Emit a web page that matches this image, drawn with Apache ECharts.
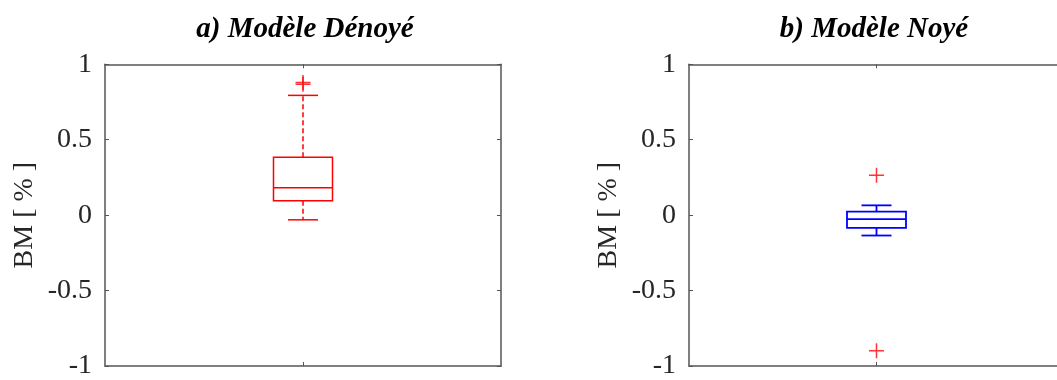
<!DOCTYPE html>
<html>
<head>
<meta charset="utf-8">
<script src="https://cdn.jsdelivr.net/npm/echarts@6/dist/echarts.min.js"></script>
<style>
html,body{margin:0;padding:0;background:#fff;overflow:hidden;}
#c{width:1080px;height:380px;}
</style>
</head>
<body>
<div id="c"></div>
<script>
// ---- data ----
const panelTitles = ['a) Modèle Dénoyé', 'b) Modèle Noyé'];
const yAxisTitle = 'BM [ % ]';
const categories = ['Dénoyé'];
const categoriesNoye = ['Noyé'];
// [lower whisker, Q1, median, Q3, upper whisker]
const denoyeBox = [-0.031, 0.096, 0.181, 0.384, 0.794];
const denoyeOutliers = [0.868, 0.879];
const noyeBox = [-0.135, -0.085, -0.026, 0.024, 0.065];
const noyeOutliers = [0.264, -0.899];
const yMin = -1, yMax = 1, yStep = 0.5;

const FONT = "'Liberation Serif', 'DejaVu Serif', serif";
const AXIS_COLOR = '#555555';
const LABEL_COLOR = '#262626';

const chart = echarts.init(document.getElementById('c'), null, {renderer: 'canvas'});

function makeRender(color, dashed, lw) {
  return function (params, api) {
    const x = api.value(0);
    const pLo = api.coord([x, api.value(1)]);
    const pQ1 = api.coord([x, api.value(2)]);
    const pMed = api.coord([x, api.value(3)]);
    const pQ3 = api.coord([x, api.value(4)]);
    const pHi = api.coord([x, api.value(5)]);
    const bw = 59, cw = 30;
    const cx = pMed[0];
    const stroke = {stroke: color, lineWidth: lw, fill: null};
    const dashStyle = {stroke: color, lineWidth: lw, lineDash: dashed ? [5, 3] : null};
    return {
      type: 'group',
      children: [
        {type: 'line', shape: {x1: cx, y1: pQ3[1], x2: cx, y2: pHi[1]}, style: dashStyle},
        {type: 'line', shape: {x1: cx, y1: pQ1[1], x2: cx, y2: pLo[1]}, style: dashStyle},
        {type: 'line', shape: {x1: cx - cw / 2, y1: pHi[1], x2: cx + cw / 2, y2: pHi[1]}, style: stroke},
        {type: 'line', shape: {x1: cx - cw / 2, y1: pLo[1], x2: cx + cw / 2, y2: pLo[1]}, style: stroke},
        {type: 'rect', shape: {x: cx - bw / 2, y: pQ3[1], width: bw, height: pQ1[1] - pQ3[1]}, style: stroke},
        {type: 'line', shape: {x1: cx - bw / 2, y1: pMed[1], x2: cx + bw / 2, y2: pMed[1]}, style: stroke}
      ]
    };
  };
}

const PLUS = 'path://M-0.1,-1H0.1V-0.1H1V0.1H0.1V1H-0.1V0.1H-1V-0.1H-0.1Z';

function xAxes(gridIndex, cats, pos) {
  return {
    type: 'category', data: cats, gridIndex: gridIndex, position: pos,
    boundaryGap: true,
    axisLine: {show: true, onZero: false, lineStyle: {color: AXIS_COLOR, width: 1.5}},
    axisTick: {show: true, inside: true, length: 4, alignWithLabel: true, lineStyle: {color: AXIS_COLOR, width: 1}},
    axisLabel: {show: false},
    splitLine: {show: false}
  };
}
function yAxis(gridIndex, pos, labels, visible) {
  return {
    type: 'value', gridIndex: gridIndex, position: pos, show: visible,
    min: yMin, max: yMax, interval: yStep,
    name: labels ? yAxisTitle : '',
    nameLocation: 'middle', nameGap: 66,
    nameTextStyle: {fontFamily: FONT, fontSize: 28, color: LABEL_COLOR},
    axisLine: {show: true, onZero: false, lineStyle: {color: AXIS_COLOR, width: 1.5}},
    axisTick: {show: true, inside: true, length: 4, lineStyle: {color: AXIS_COLOR, width: 1}},
    axisLabel: {show: labels, margin: 13, fontFamily: FONT, fontSize: 28, color: LABEL_COLOR,
      showMinLabel: true, showMaxLabel: true},
    splitLine: {show: false}
  };
}

const titleStyle = {fontFamily: FONT, fontSize: 29, fontWeight: 'bold', fontStyle: 'italic', color: '#000'};
const option = {
  backgroundColor: '#ffffff',
  animation: false,
  title: [
    {text: panelTitles[0], left: 300, top: 10, textAlign: 'center', textStyle: titleStyle},
    {text: panelTitles[1], left: 869, top: 10, textAlign: 'center', textStyle: titleStyle}
  ],
  grid: [
    {left: 105, top: 64.3, width: 396, height: 305},
    {left: 689, top: 64.3, width: 375, height: 305}
  ],
  xAxis: [
    xAxes(0, categories, 'bottom'), xAxes(0, categories, 'top'),
    xAxes(1, categoriesNoye, 'bottom'), xAxes(1, categoriesNoye, 'top')
  ],
  yAxis: [
    yAxis(0, 'left', true, true), yAxis(0, 'right', false, true),
    yAxis(1, 'left', true, true), yAxis(1, 'right', false, false)
  ],
  series: [
    {type: 'custom', xAxisIndex: 0, yAxisIndex: 0, renderItem: makeRender('#ff0000', true, 1.5),
      data: [[0].concat(denoyeBox)], silent: true, clip: false},
    {type: 'scatter', xAxisIndex: 0, yAxisIndex: 0, symbol: PLUS, symbolSize: 15,
      itemStyle: {color: '#ff0000'}, data: denoyeOutliers.map(v => [0, v]), silent: true},
    {type: 'custom', xAxisIndex: 2, yAxisIndex: 2, renderItem: makeRender('#0000ff', false, 1.8),
      data: [[0].concat(noyeBox)], silent: true, clip: false},
    {type: 'scatter', xAxisIndex: 2, yAxisIndex: 2, symbol: PLUS, symbolSize: 15,
      itemStyle: {color: '#ff0000'}, data: noyeOutliers.map(v => [0, v]), silent: true}
  ]
};
chart.setOption(option);
</script>
</body>
</html>
